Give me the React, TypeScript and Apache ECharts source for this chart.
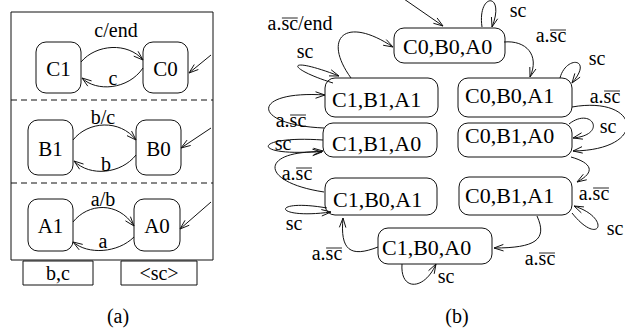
import React, { useEffect, useRef } from "react";
import * as echarts from "echarts";

// ---------------- data ----------------
const statesA = ["C1", "C0", "B1", "B0", "A1", "A0"];
const initialA = ["C0", "B0", "A0"];
const transitionsA = [
  { from: "C1", to: "C0", label: "c/end" },
  { from: "C0", to: "C1", label: "c" },
  { from: "B1", to: "B0", label: "b/c" },
  { from: "B0", to: "B1", label: "b" },
  { from: "A1", to: "A0", label: "a/b" },
  { from: "A0", to: "A1", label: "a" },
];
const signalsA = ["b,c", "<sc>"];

const statesB = [
  "C0,B0,A0",
  "C1,B1,A1",
  "C0,B0,A1",
  "C1,B1,A0",
  "C0,B1,A0",
  "C1,B0,A1",
  "C0,B1,A1",
  "C1,B0,A0",
];
const initialB = ["C0,B0,A0"];
const transitionsB = [
  { from: "C0,B0,A0", to: "C0,B0,A0", label: "sc", over: "" },
  { from: "C1,B1,A1", to: "C0,B0,A0", label: "a.sc/end", over: "sc" },
  { from: "C1,B1,A1", to: "C1,B1,A1", label: "sc", over: "" },
  { from: "C1,B1,A0", to: "C1,B1,A1", label: "a.sc", over: "sc" },
  { from: "C1,B1,A0", to: "C1,B1,A0", label: "sc", over: "" },
  { from: "C1,B0,A1", to: "C1,B1,A0", label: "a.sc", over: "sc" },
  { from: "C1,B0,A1", to: "C1,B0,A1", label: "sc", over: "" },
  { from: "C1,B0,A0", to: "C1,B0,A1", label: "a.sc", over: "sc" },
  { from: "C1,B0,A0", to: "C1,B0,A0", label: "sc", over: "" },
  { from: "C0,B1,A1", to: "C1,B0,A0", label: "a.sc", over: "sc" },
  { from: "C0,B1,A1", to: "C0,B1,A1", label: "sc", over: "" },
  { from: "C0,B1,A0", to: "C0,B1,A1", label: "a.sc", over: "sc" },
  { from: "C0,B1,A0", to: "C0,B1,A0", label: "sc", over: "" },
  { from: "C0,B0,A1", to: "C0,B1,A0", label: "a.sc", over: "sc" },
  { from: "C0,B0,A1", to: "C0,B0,A1", label: "sc", over: "" },
  { from: "C0,B0,A0", to: "C0,B0,A1", label: "a.sc", over: "sc" },
];
const captions = ["(a)", "(b)"];

// ---------------- layout ----------------
const FONT_FAMILY = "Liberation Serif";
const LABEL_SIZE = 20;
const STATE_SIZE_A = 21;
const STATE_SIZE_B = 22;

const frameA = { x: 11, y: 12, w: 202, h: 248 };
const dividersA = [100, 183];
const boxA: Record<string, number[]> = {
  C1: [36, 42, 45, 51],
  C0: [143, 42, 45, 51],
  B1: [28, 120, 45, 55],
  B0: [136, 120, 45, 55],
  A1: [28, 199, 45, 52],
  A0: [134, 199, 46, 52],
};
const initLinesA: Record<string, number[]> = {
  C0: [211, 55, 189, 73],
  B0: [211, 128, 181, 148],
  A0: [211, 202, 180, 229],
};
const curvesA = [
  [81, 62, 96, 44, 128, 42, 143, 60],
  [143, 68, 128, 90, 96, 92, 82, 78],
  [73, 140, 88, 121, 120, 119, 136, 140],
  [136, 155, 121, 174, 90, 177, 74, 161],
  [73, 222, 88, 203, 118, 201, 134, 226],
  [134, 237, 118, 253, 88, 255, 73, 242],
];
const labelPosA = [
  [116, 30],
  [113, 78],
  [103, 117],
  [106, 164],
  [103, 199],
  [103, 241],
];
const signalBoxA = [
  [23, 261, 70, 24],
  [121, 261, 76, 24],
];
const captionPos = [
  [118, 316],
  [457, 316],
];

const boxB: Record<string, number[]> = {
  "C0,B0,A0": [394, 28, 111, 35],
  "C1,B1,A1": [325, 78, 113, 39],
  "C0,B0,A1": [458, 78, 114, 39],
  "C1,B1,A0": [323, 123, 114, 34],
  "C0,B1,A0": [458, 123, 114, 34],
  "C1,B0,A1": [325, 178, 112, 37],
  "C0,B1,A1": [459, 177, 113, 38],
  "C1,B0,A0": [378, 228, 114, 36],
};
const textPosB: Record<string, number[]> = {
  "C0,B0,A0": [403, 46],
  "C1,B1,A1": [332, 99],
  "C0,B0,A1": [465, 95],
  "C1,B1,A0": [332, 143],
  "C0,B1,A0": [465, 135],
  "C1,B0,A1": [333, 199],
  "C0,B1,A1": [465, 195],
  "C1,B0,A0": [382, 247],
};
const initLinesB: Record<string, number[]> = {
  "C0,B0,A0": [404, -1, 443, 26],
};
const curvesB = [
  [482, 27, 477, -8, 506, -8, 492, 27],
  [351, 78, 322, 38, 345, 15, 393, 47],
  [333, 83, 285, 68, 285, 55, 339, 76],
  [324, 128, 250, 125, 250, 90, 325, 95],
  [323, 140, 250, 135, 250, 158, 323, 151],
  [324, 192, 258, 182, 260, 150, 322, 152],
  [327, 208, 270, 198, 272, 220, 331, 212],
  [378, 247, 350, 258, 340, 250, 343, 218],
  [402, 264, 400, 292, 425, 290, 436, 264],
  [537, 216, 548, 240, 535, 248, 494, 248],
  [572, 213, 600, 248, 612, 218, 574, 206],
  [571, 157, 592, 163, 596, 172, 577, 182],
  [569, 124, 592, 106, 608, 135, 573, 138],
  [572, 107, 640, 95, 650, 150, 573, 151],
  [560, 78, 566, 55, 594, 58, 572, 83],
  [504, 42, 526, 40, 540, 55, 530, 77],
];
const labelPosB = [
  [518, 10],
  [300, 23],
  [305, 51],
  [291, 120],
  [283, 143],
  [297, 173],
  [294, 223],
  [327, 253],
  [446, 276],
  [540, 258],
  [615, 228],
  [594, 193],
  [608, 126],
  [605, 96],
  [597, 58],
  [551, 35],
];

// ---------------- helpers ----------------
const INK = "#111";

function measure(text: string, size: number): number {
  const c = document.createElement("canvas").getContext("2d");
  if (!c) return text.length * size * 0.45;
  c.font = `${size}px "${FONT_FAMILY}"`;
  return c.measureText(text).width;
}

function rect(x: number, y: number, w: number, h: number, r: number) {
  return {
    type: "rect",
    shape: { x, y, width: w, height: h, r },
    style: { fill: "none", stroke: INK, lineWidth: 1 },
    silent: true,
  };
}

function txt(str: string, x: number, y: number, size: number, align = "center") {
  return {
    type: "text",
    x,
    y,
    silent: true,
    style: {
      legacy: false,
      text: str,
      font: `${size}px "${FONT_FAMILY}"`,
      fill: "#000",
      align,
      textAlign: align,
      verticalAlign: "middle",
      textVerticalAlign: "middle",
    },
  };
}

function bez(p: number[], t: number) {
  const u = 1 - t;
  const a = u * u * u, b = 3 * u * u * t, c = 3 * u * t * t, d = t * t * t;
  return [a * p[0] + b * p[2] + c * p[4] + d * p[6], a * p[1] + b * p[3] + c * p[5] + d * p[7]];
}

function arrowHead(tx: number, ty: number, fx: number, fy: number) {
  const dx = tx - fx, dy = ty - fy;
  const L = Math.hypot(dx, dy) || 1;
  const bx = -dx / L, by = -dy / L;
  const len = 10, ang = 0.33;
  const c = Math.cos(ang), s = Math.sin(ang);
  const p1 = [tx + len * (bx * c - by * s), ty + len * (bx * s + by * c)];
  const p2 = [tx + len * (bx * c + by * s), ty + len * (-bx * s + by * c)];
  return {
    type: "polyline",
    shape: { points: [p1, [tx, ty], p2] },
    style: { stroke: INK, fill: "none", lineWidth: 1 },
    silent: true,
  };
}

function curveEdge(p: number[]) {
  const q = bez(p, 0.86);
  return [
    {
      type: "bezierCurve",
      shape: { x1: p[0], y1: p[1], cpx1: p[2], cpy1: p[3], cpx2: p[4], cpy2: p[5], x2: p[6], y2: p[7] },
      style: { stroke: INK, fill: "none", lineWidth: 1 },
      silent: true,
    },
    arrowHead(p[6], p[7], q[0], q[1]),
  ];
}

function lineEdge(p: number[]) {
  return [
    {
      type: "line",
      shape: { x1: p[0], y1: p[1], x2: p[2], y2: p[3] },
      style: { stroke: INK, lineWidth: 1 },
      silent: true,
    },
    arrowHead(p[2], p[3], p[0], p[1]),
  ];
}

function label(str: string, over: string, cx: number, cy: number, size: number) {
  const out: any[] = [txt(str, cx, cy, size, "center")];
  if (over) {
    const i = str.indexOf(over);
    const total = measure(str, size);
    const left = cx - total / 2;
    const x0 = left + measure(str.slice(0, i), size);
    const x1 = x0 + measure(over, size);
    out.push({
      type: "line",
      shape: { x1: x0 + 0.5, y1: cy - 5, x2: x1 - 0.3, y2: cy - 5 },
      style: { stroke: INK, lineWidth: 0.9 },
      silent: true,
    });
  }
  return out;
}

function buildElements() {
  const els: any[] = [];
  // ----- panel (a)
  els.push(rect(frameA.x, frameA.y, frameA.w, frameA.h, 0));
  dividersA.forEach((y) =>
    els.push({
      type: "line",
      shape: { x1: frameA.x, y1: y, x2: frameA.x + frameA.w, y2: y },
      style: { stroke: INK, lineWidth: 1, lineDash: [6, 4] },
      silent: true,
    })
  );
  statesA.forEach((s) => {
    const [x, y, w, h] = boxA[s];
    els.push(rect(x, y, w, h, 10));
    els.push(txt(s, x + w / 2, y + h / 2 + 1, STATE_SIZE_A));
  });
  initialA.forEach((s) => els.push(...lineEdge(initLinesA[s])));
  transitionsA.forEach((t, i) => {
    els.push(...curveEdge(curvesA[i]));
    els.push(...label(t.label, "", labelPosA[i][0], labelPosA[i][1], LABEL_SIZE));
  });
  signalsA.forEach((s, i) => {
    const [x, y, w, h] = signalBoxA[i];
    els.push(rect(x, y, w, h, 0));
    els.push(txt(s, x + w / 2, y + h / 2, LABEL_SIZE));
  });
  // ----- panel (b)
  statesB.forEach((s) => {
    const [x, y, w, h] = boxB[s];
    els.push(rect(x, y, w, h, 10));
    const [tx, ty] = textPosB[s];
    els.push(txt(s, tx, ty, STATE_SIZE_B, "left"));
  });
  initialB.forEach((s) => els.push(...lineEdge(initLinesB[s])));
  transitionsB.forEach((t, i) => {
    els.push(...curveEdge(curvesB[i]));
    els.push(...label(t.label, t.over, labelPosB[i][0], labelPosB[i][1], LABEL_SIZE));
  });
  // captions
  captions.forEach((c, i) => els.push(txt(c, captionPos[i][0], captionPos[i][1], LABEL_SIZE)));
  return els;
}

export default function App() {
  const ref = useRef<HTMLDivElement>(null);
  useEffect(() => {
    if (!ref.current) return;
    const chart = echarts.init(ref.current, undefined, { renderer: "svg" });
    chart.setOption({
      animation: false,
      backgroundColor: "#fff",
      graphic: { elements: buildElements() },
    });
    return () => chart.dispose();
  }, []);
  return (
    <div
      ref={ref}
      style={{ position: "fixed", left: 0, top: 0, width: 625, height: 331, background: "#fff" }}
    />
  );
}
